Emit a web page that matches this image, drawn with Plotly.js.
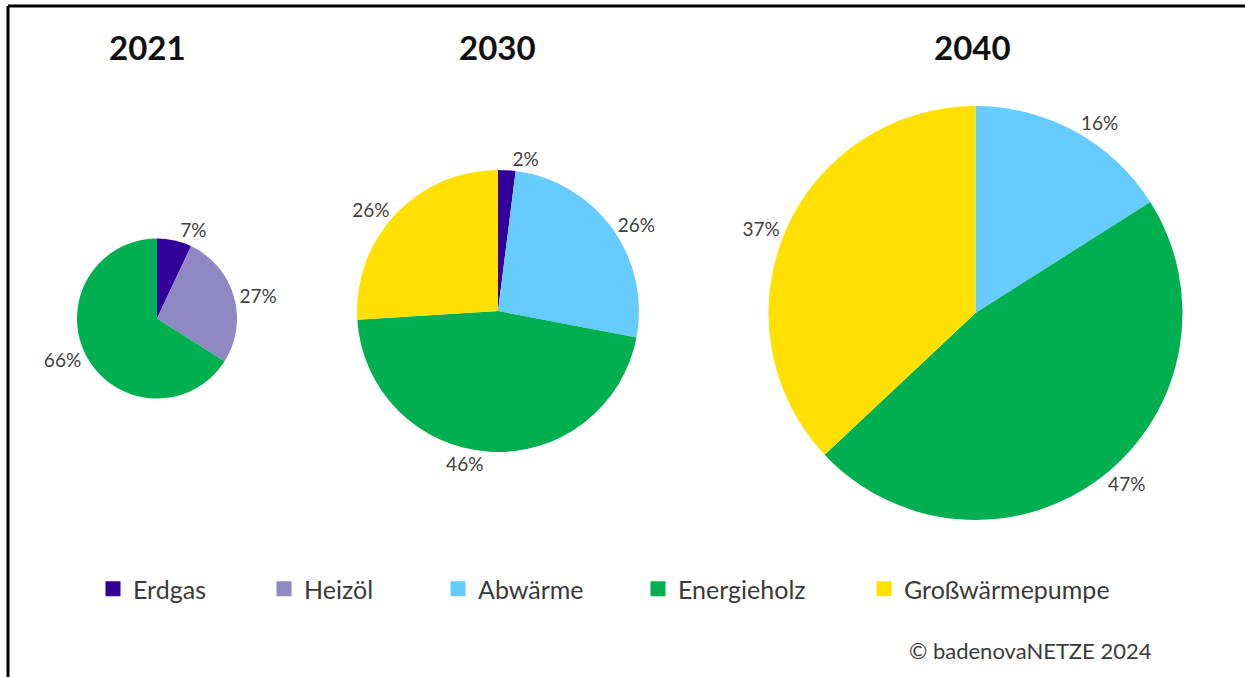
<!DOCTYPE html>
<html>
<head>
<meta charset="utf-8">
<script src="https://cdn.plot.ly/plotly-3.0.1.min.js"></script>
<style>
  html, body { margin: 0; padding: 0; background: #fff; }
  #chart { width: 1245px; height: 677px; }
</style>
</head>
<body>
<div id="chart"></div>
<script>
// ---- data ----
const years = ['2021', '2030', '2040'];
const categories = ['Erdgas', 'Heizöl', 'Abwärme', 'Energieholz', 'Großwärmepumpe'];
const colors = ['#330099', '#8F88C3', '#66CCFF', '#00B050', '#FFE000'];
const labels2021 = ['Erdgas', 'Heizöl', 'Energieholz'];
const values2021 = [7, 27, 66];
const labels2030 = ['Erdgas', 'Abwärme', 'Energieholz', 'Großwärmepumpe'];
const values2030 = [2, 26, 46, 26];
const labels2040 = ['Abwärme', 'Energieholz', 'Großwärmepumpe'];
const values2040 = [16, 47, 37];
const credit = '© badenovaNETZE 2024';

// ---- layout geometry (pixels) ----
const W = 1245, H = 677;
const pieGeom = [
  { cx: 157, cy: 318.5, r: 80 },
  { cx: 498, cy: 311, r: 141 },
  { cx: 975.5, cy: 313, r: 207 }
];
const titleX = [147, 497, 972];
const titleY = 47;
const legendMarkerLeft = [107, 278, 452, 652, 878];
const legendY = 589;

const pieLabels = [labels2021, labels2030, labels2040];
const pieValues = [values2021, values2030, values2040];

function colorFor(lbl) { return colors[categories.indexOf(lbl)]; }

const labelFont = { family: 'Lato, "Open Sans", sans-serif', size: 19, color: '#404040' };

const traces = [];
pieGeom.forEach((g, i) => {
  traces.push({
    type: 'pie',
    labels: pieLabels[i],
    values: pieValues[i],
    sort: false,
    direction: 'clockwise',
    rotation: 0,
    marker: { colors: pieLabels[i].map(colorFor), line: { width: 0 } },
    textposition: 'outside',
    texttemplate: '%{value}%',
    textfont: labelFont,
    outsidetextfont: labelFont,
    hoverinfo: 'skip',
    showlegend: false,
    domain: {
      x: [(g.cx - g.r) / W, (g.cx + g.r) / W],
      y: [(H - g.cy - g.r) / H, (H - g.cy + g.r) / H]
    }
  });
});

// legend entries (one legend per category so spacing follows the reference)
const legendLayouts = {};
categories.forEach((c, i) => {
  const key = i === 0 ? 'legend' : 'legend' + (i + 1);
  traces.push({
    type: 'scatter',
    x: [null], y: [null],
    mode: 'markers',
    name: c,
    marker: { symbol: 'square', size: 15, color: colors[i] },
    legend: key,
    showlegend: true,
    hoverinfo: 'skip'
  });
  legendLayouts[key] = {
    orientation: 'h',
    x: (legendMarkerLeft[i] - 14) / W,
    xanchor: 'left',
    y: 1 - legendY / H,
    yanchor: 'middle',
    bgcolor: 'rgba(0,0,0,0)',
    borderwidth: 0,
    font: { family: 'Lato, "Open Sans", sans-serif', size: 25, color: '#3a3a3a' }
  };
});

const annotations = years.map((y, i) => ({
  text: '<b>' + y + '</b>',
  x: titleX[i] / W, y: 1 - titleY / H,
  xref: 'paper', yref: 'paper',
  xanchor: 'center', yanchor: 'middle',
  showarrow: false,
  font: { family: 'Lato, "Open Sans", sans-serif', size: 33, color: '#111111' }
}));
annotations.push({
  text: credit,
  x: 1154 / W, y: 1 - 650 / H,
  xref: 'paper', yref: 'paper',
  xanchor: 'right', yanchor: 'middle',
  showarrow: false,
  font: { family: 'Lato, "Open Sans", sans-serif', size: 22, color: '#3a3a3a' }
});

const layout = Object.assign({
  width: W, height: H,
  margin: { l: 0, r: 0, t: 0, b: 0 },
  paper_bgcolor: '#ffffff',
  plot_bgcolor: 'rgba(0,0,0,0)',
  xaxis: { visible: false, showgrid: false, zeroline: false },
  yaxis: { visible: false, showgrid: false, zeroline: false },
  annotations: annotations,
  shapes: [
    { type: 'line', xref: 'paper', yref: 'paper', x0: 8 / W, x1: 8 / W, y0: 0, y1: 1 - 6 / H, line: { color: '#000', width: 3 } },
    { type: 'line', xref: 'paper', yref: 'paper', x0: 8 / W, x1: 1, y0: 1 - 6 / H, y1: 1 - 6 / H, line: { color: '#000', width: 3 } }
  ],
  hovermode: false
}, legendLayouts);

Plotly.newPlot('chart', traces, layout, { displayModeBar: false, staticPlot: true });
</script>
</body>
</html>
